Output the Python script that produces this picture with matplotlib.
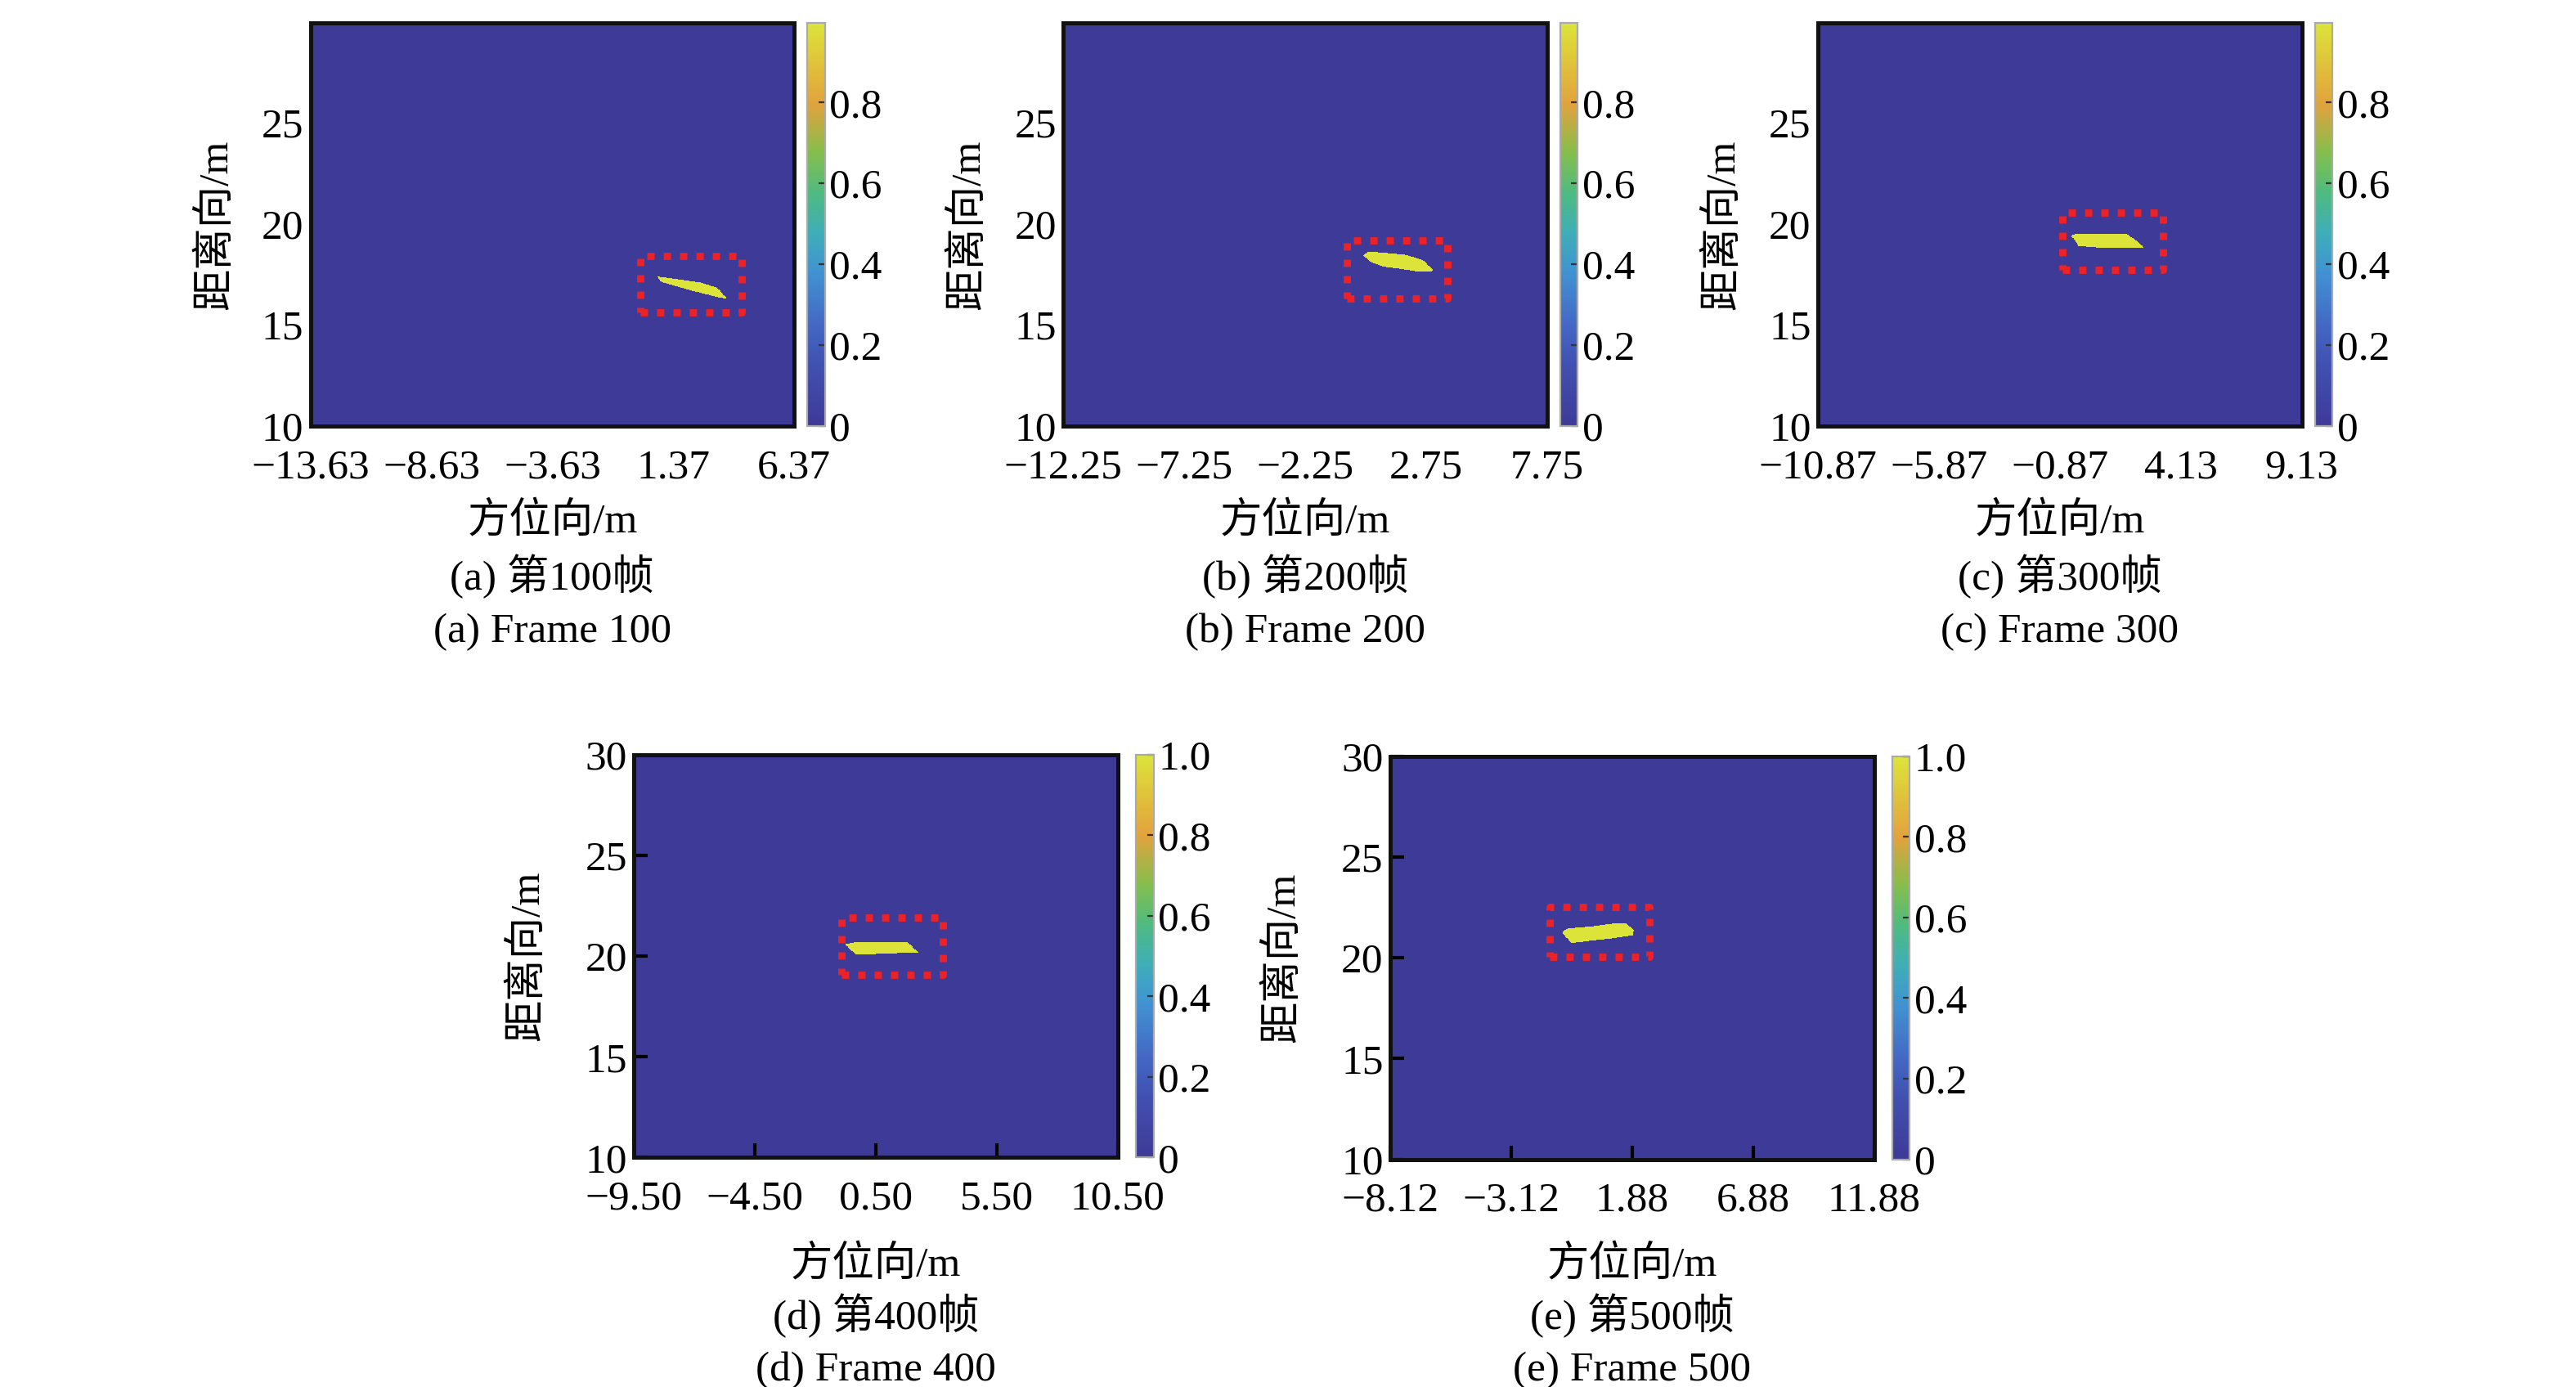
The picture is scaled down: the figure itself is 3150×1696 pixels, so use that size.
import numpy as np
import matplotlib
matplotlib.use('Agg')
import matplotlib.pyplot as plt
from matplotlib.colors import LinearSegmentedColormap
from matplotlib.path import Path

plt.rcParams['font.family'] = ['Liberation Serif', 'Noto Sans CJK SC']
plt.rcParams['axes.unicode_minus'] = True

# panel data
panel_tags = ['a', 'b', 'c', 'd', 'e']
frames = [100, 200, 300, 400, 500]
x_min = [-13.63, -12.25, -10.87, -9.50, -8.12]
x_span = 20.0
y_min = [10, 10, 10, 10, 10]
y_max = [29.9, 29.9, 29.9, 30.0, 30.0]
y_ticks_top = [10, 15, 20, 25]
y_ticks_bottom = [10, 15, 20, 25, 30]
peak = [0.996, 0.996, 0.996, 1.0, 1.0]
cbar_ticks_top = [0, 0.2, 0.4, 0.6, 0.8]
cbar_labels_top = ['0', '0.2', '0.4', '0.6', '0.8']
cbar_ticks_bottom = [0, 0.2, 0.4, 0.6, 0.8, 1.0]
cbar_labels_bottom = ['0', '0.2', '0.4', '0.6', '0.8', '1.0']

# target outlines (x, y) in metres
target_a_x = [0.68, 0.81, 2.27, 3.18, 3.57, 3.29, 2.27, 0.92]
target_a_y = [17.40, 17.38, 17.14, 16.80, 16.28, 16.32, 16.62, 17.06]
target_b_x = [0.14, 0.36, 1.83, 2.62, 3.09, 2.39, 1.72, 0.92, 0.48]
target_b_y = [18.41, 18.61, 18.47, 18.20, 17.66, 17.64, 17.76, 17.89, 18.10]
target_c_x = [-0.40, -0.25, 1.87, 2.30, 2.60, 0.75, -0.08]
target_c_y = [19.36, 19.48, 19.48, 19.15, 18.80, 18.80, 18.88]
target_d_x = [-0.78, -0.33, 1.82, 2.25, 0.50, -0.33]
target_d_y = [20.57, 20.68, 20.68, 20.18, 20.10, 20.08]
target_e_x = [-1.04, -0.80, 0.20, 1.00, 1.62, 1.96, 1.90, 0.89, 0.20, -0.63]
target_e_y = [21.29, 21.47, 21.57, 21.70, 21.74, 21.40, 21.13, 20.96, 20.88, 20.75]
targets_x = [target_a_x, target_b_x, target_c_x, target_d_x, target_e_x]
targets_y = [target_a_y, target_b_y, target_c_y, target_d_y, target_e_y]

# red dotted boxes: x0, x1, y0, y1
box_x0 = [0.02, -0.54, -0.77, -0.91, -1.53]
box_x1 = [4.19, 3.63, 3.40, 3.28, 2.58]
box_y0 = [15.63, 16.30, 17.72, 19.08, 20.04]
box_y1 = [18.41, 19.15, 20.54, 21.92, 22.52]

# parula-like colormap (as printed)
cmap = LinearSegmentedColormap.from_list('parula_like', [
    (0.00, '#3e3a98'), (0.15, '#4150b0'), (0.25, '#4468c4'),
    (0.38, '#4192d2'), (0.48, '#3eaeb8'), (0.58, '#4fbb80'),
    (0.68, '#86be4c'), (0.80, '#e2a23e'), (0.90, '#e0c23a'),
    (1.00, '#dce43a')])

# layout (figure fractions)
ax_left = [0.1205, 0.4128, 0.7057, 0.2461, 0.5397]
ax_bottom = [0.6928, 0.6928, 0.6928, 0.1654, 0.1642]
ax_w = 0.1878
ax_h = 0.2905
cb_gap = 0.0051
cb_w = 0.0068
fs = 18.5

fig = plt.figure(figsize=(15.75, 8.48), dpi=200)

for i in range(5):
    top_row = i < 3
    x0 = x_min[i]
    x1 = x0 + x_span
    ax = fig.add_axes([ax_left[i], ax_bottom[i], ax_w, ax_h])

    # rasterise the target into an intensity map
    nx, ny = 500, 500
    gx = np.linspace(x0, x1, nx)
    gy = np.linspace(y_min[i], y_max[i], ny)
    XX, YY = np.meshgrid(gx, gy)
    path = Path(np.column_stack([targets_x[i], targets_y[i]]))
    inside = path.contains_points(np.column_stack([XX.ravel(), YY.ravel()]))
    img = np.where(inside.reshape(ny, nx), peak[i], 0.0)

    im = ax.imshow(img, cmap=cmap, origin='lower', aspect='auto',
                   extent=[x0, x1, y_min[i], y_max[i]],
                   vmin=0, vmax=peak[i], interpolation='nearest')

    bx = [box_x0[i], box_x1[i], box_x1[i], box_x0[i], box_x0[i]]
    by = [box_y0[i], box_y0[i], box_y1[i], box_y1[i], box_y0[i]]
    ax.plot(bx, by, color='#ec2227', lw=3.2, linestyle=(0, (1, 1.25)),
            dash_capstyle='butt', solid_capstyle='butt')

    ax.set_xlim(x0, x1)
    ax.set_ylim(y_min[i], y_max[i])
    xt = [x0 + 5 * k for k in range(5)]
    ax.set_xticks(xt)
    ax.set_xticklabels([f'{v:.2f}'.replace('-', '\u2212') for v in xt])
    yt = y_ticks_top if top_row else y_ticks_bottom
    ax.set_yticks(yt)
    ax.set_yticklabels([str(v) for v in yt])
    ax.tick_params(direction='in', length=0 if top_row else 6, width=1.5,
                   labelsize=fs, pad=3, top=False, right=False)
    ax.tick_params(axis='x', pad=10)
    for sp in ax.spines.values():
        sp.set_linewidth(1.8)
        sp.set_color('#111111')

    ax.set_ylabel('距离向/m', fontsize=fs)
    ax.yaxis.set_label_coords(-0.155 if top_row else -0.18, 0.5)

    cx = ax_left[i] + ax_w + cb_gap + (0.002 if not top_row else 0)
    cax = fig.add_axes([cx, ax_bottom[i], cb_w, ax_h])
    cb = fig.colorbar(im, cax=cax)
    if top_row:
        cb.set_ticks(cbar_ticks_top)
        cb.set_ticklabels(cbar_labels_top)
    else:
        cb.set_ticks(cbar_ticks_bottom)
        cb.set_ticklabels(cbar_labels_bottom)
    cb.ax.tick_params(direction='in', length=3, width=0.8, labelsize=fs,
                      pad=2, color='#333333')
    cb.outline.set_edgecolor('#aaaaaa')
    cb.outline.set_linewidth(0.8)

    # captions under each panel
    xc = ax_left[i] + ax_w / 2
    if top_row:
        ys = [0.624, 0.5845, 0.544]
    else:
        ys = [0.0881, 0.0512, 0.0119]
    fig.text(xc, ys[0], '方位向/m', fontsize=fs, ha='center', va='center')
    fig.text(xc, ys[1], f'({panel_tags[i]}) 第{frames[i]}帧', fontsize=fs,
             ha='center', va='center')
    fig.text(xc, ys[2], f'({panel_tags[i]}) Frame {frames[i]}', fontsize=fs,
             ha='center', va='center')

fig.savefig('out.png', dpi=200, facecolor='white')
